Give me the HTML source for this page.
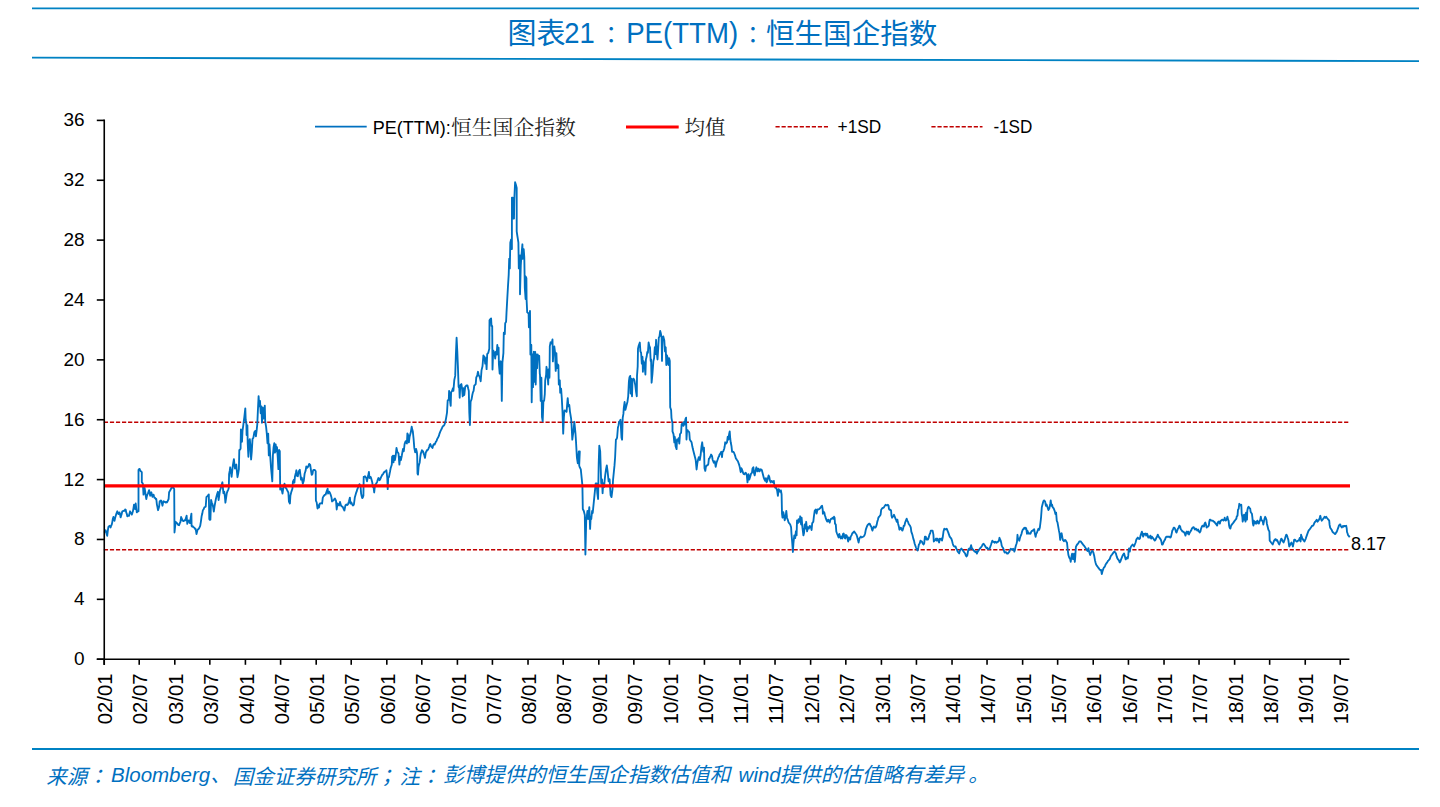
<!DOCTYPE html>
<html><head><meta charset="utf-8">
<style>
html,body{margin:0;padding:0;background:#fff;}
body{width:1440px;height:807px;overflow:hidden;position:relative;}
.src{position:absolute;top:761.5px;font-size:20.5px;line-height:26px;color:#0070C0;white-space:nowrap;font-style:italic;
 font-family:"Liberation Sans","Noto Sans CJK SC",sans-serif;}
.src .c{font-family:"Noto Sans CJK TC",sans-serif;}
svg{position:absolute;left:0;top:0;}
.ax{stroke:#000;stroke-width:1.6;}
.yl{font-family:"Liberation Sans",sans-serif;font-size:19px;text-anchor:end;fill:#000;}
.xl{font-family:"Liberation Sans",sans-serif;font-size:20px;fill:#000;}
.lg{font-family:"Liberation Sans",sans-serif;font-size:19px;fill:#000;}
.lgc{font-family:"Noto Serif CJK SC","Liberation Serif",serif;fill:#222;}
</style></head><body>

<div class="src" style="left:46.3px">来源<span class="c">：</span></div>
<div class="src" style="left:111px">Bloomberg、</div>
<div class="src" style="left:232.75px">国金证券研究所<span class="c">；</span></div>
<div class="src" style="left:399.5px">注<span class="c">：</span></div>
<div class="src" style="left:443.2px">彭博提供的恒生国企指数估值和</div>
<div class="src" style="left:738.6px">wind</div>
<div class="src" style="left:779.7px">提供的估值略有差异</div>
<div class="src" style="left:968.3px">。</div>
<svg width="1440" height="807" viewBox="0 0 1440 807">
<line x1="32" y1="8.4" x2="1419" y2="8.4" stroke="#0082C3" stroke-width="1.8"/>
<line x1="32" y1="57.7" x2="1419" y2="61.1" stroke="#0082C3" stroke-width="1.8"/>
<line x1="32" y1="749" x2="1419" y2="749" stroke="#0082C3" stroke-width="1.8"/>
<!-- title -->
<g fill="#0070C0">
<text x="507.6" y="44.0" font-family="Liberation Sans, Noto Sans CJK SC, sans-serif" font-size="29">图表</text>
<text x="564.3" y="42.5" font-family="Liberation Sans, sans-serif" font-size="29" textLength="30.5" lengthAdjust="spacingAndGlyphs">21</text>
<text x="599.8" y="43.35" font-family="Noto Sans CJK TC, sans-serif" font-size="22.8">：</text>
<text x="626.2" y="42.6" font-family="Liberation Sans, sans-serif" font-size="29.3" textLength="112" lengthAdjust="spacingAndGlyphs">PE(TTM)</text>
<text x="741.4" y="43.35" font-family="Noto Sans CJK TC, sans-serif" font-size="22.8">：</text>
<text x="765.9" y="44.0" font-family="Liberation Sans, Noto Sans CJK SC, sans-serif" font-size="28.6">恒生国企指数</text>
</g>
<!-- legend -->
<line x1="315" y1="126.6" x2="366.7" y2="126.6" stroke="#0070C0" stroke-width="1.6"/>
<text x="372.8" y="133.8" class="lg" textLength="78" lengthAdjust="spacingAndGlyphs">PE(TTM):</text>
<text x="451" y="134.5" class="lgc" font-size="20.8">恒生国企指数</text>
<line x1="626" y1="127" x2="678.7" y2="127" stroke="#FF0000" stroke-width="3.2"/>
<text x="684.5" y="134.5" class="lgc" font-size="20.5">均值</text>
<line x1="775.5" y1="126.7" x2="828" y2="126.7" stroke="#C00000" stroke-width="1.6" stroke-dasharray="4.2 1.85"/>
<text x="837.6" y="133.2" class="lg" textLength="43.7" lengthAdjust="spacingAndGlyphs">+1SD</text>
<line x1="931.4" y1="126.7" x2="982.5" y2="126.7" stroke="#C00000" stroke-width="1.6" stroke-dasharray="4.2 1.85"/>
<text x="993.4" y="133.2" class="lg" textLength="39" lengthAdjust="spacingAndGlyphs">-1SD</text>
<!-- ref lines -->
<line x1="103.85" y1="422.2" x2="1350" y2="422.2" stroke="#C00000" stroke-width="1.6" stroke-dasharray="4.2 1.85"/>
<line x1="103.85" y1="549.7" x2="1350" y2="549.8" stroke="#C00000" stroke-width="1.6" stroke-dasharray="4.2 1.85"/>
<polyline points="104.5,532.5 105.0,531.2 105.6,530.3 106.1,531.7 106.7,534.2 107.2,535.8 107.8,530.9 108.4,526.9 108.9,526.4 109.5,525.8 110.0,526.5 110.6,527.5 111.2,525.5 111.7,524.7 112.3,522.1 112.8,518.9 113.4,516.9 113.9,518.7 114.5,520.8 115.1,518.0 115.6,516.3 116.2,514.2 116.7,512.9 117.3,511.3 117.8,513.1 118.4,514.1 119.0,512.8 119.5,512.4 120.1,514.6 120.6,517.4 121.2,515.5 121.7,513.9 122.3,511.3 122.9,511.2 123.4,510.8 124.0,510.7 124.5,510.9 125.1,509.5 125.7,509.6 126.2,512.3 126.8,513.8 127.3,516.3 127.9,515.7 128.4,515.5 129.0,515.8 129.6,513.3 130.1,511.3 130.7,512.8 131.2,513.1 131.8,514.6 132.3,513.1 132.9,511.3 133.5,508.1 134.0,504.6 134.6,506.7 135.1,509.1 135.7,503.5 136.2,508.0 136.8,512.4 137.4,511.5 137.9,511.1 138.5,511.3 138.5,470.0 139.0,469.1 139.6,468.9 140.1,470.3 140.7,471.2 141.3,471.6 141.8,472.3 141.8,482.3 142.4,482.9 142.9,484.0 143.5,494.6 144.1,491.3 144.6,487.9 145.2,491.7 145.7,495.7 146.3,499.0 146.8,496.6 147.4,494.6 148.0,493.4 148.5,491.8 149.1,490.1 149.6,492.6 150.2,495.7 150.7,494.1 151.3,492.3 151.9,494.6 152.4,496.8 153.0,496.1 153.5,494.6 154.1,496.5 154.6,497.9 155.2,498.0 155.8,499.2 156.3,499.0 156.9,504.6 157.4,506.9 158.0,510.2 158.6,508.4 159.1,506.8 159.7,501.3 160.2,501.4 160.8,500.5 161.3,500.7 161.9,503.2 162.5,505.7 163.0,502.9 163.6,501.3 164.1,501.7 164.7,502.0 165.2,501.9 165.8,502.5 166.4,502.0 166.9,502.4 167.5,501.5 168.0,500.3 168.6,499.0 169.1,492.3 169.7,491.3 170.3,490.1 170.8,489.4 171.4,487.9 171.9,488.0 172.5,487.1 173.0,486.8 173.6,488.1 174.2,489.0 174.5,532.5 175.1,526.6 175.7,521.8 176.4,522.7 177.0,523.1 177.6,523.8 178.1,524.8 178.6,525.1 179.1,525.2 179.8,523.2 180.5,521.8 181.1,517.0 181.8,518.6 182.5,520.4 183.2,521.0 183.9,521.1 184.5,520.2 185.2,520.4 185.9,518.0 186.6,515.7 187.3,523.8 187.9,521.7 188.6,520.4 189.3,521.3 190.0,523.1 190.7,517.8 191.4,513.6 191.6,525.9 192.2,526.6 192.8,526.3 193.4,527.2 193.9,527.3 194.4,527.8 194.9,528.7 195.4,528.6 196.0,530.8 196.5,534.1 197.5,530.0 198.2,529.2 198.9,528.6 199.5,527.3 200.2,525.9 200.9,521.6 201.6,516.3 202.3,513.6 202.9,510.2 203.6,509.3 204.3,507.5 205.0,506.9 205.7,506.8 206.4,497.2 207.0,496.5 207.7,495.9 208.3,495.0 208.8,494.5 209.3,519.1 209.9,519.9 210.4,519.7 211.1,500.0 211.8,502.6 212.5,504.1 213.2,507.4 213.8,511.6 214.5,506.7 215.2,502.7 215.9,499.0 216.6,495.9 217.3,493.5 217.9,491.8 218.6,500.0 219.3,495.2 220.0,490.4 220.7,488.5 221.3,486.3 221.9,484.0 222.4,482.3 223.4,493.2 224.3,491.8 224.9,496.7 225.4,502.7 226.1,497.8 226.8,493.2 227.3,491.6 227.8,490.5 228.3,489.6 228.8,487.7 229.1,474.1 229.7,470.9 230.2,467.3 230.9,472.1 231.6,476.8 232.2,471.2 232.9,465.2 233.9,459.1 234.4,464.1 235.0,468.6 235.7,466.0 236.3,464.5 236.9,471.4 237.5,477.2 238.2,473.5 238.9,469.1 239.3,450.0 240.0,449.7 240.6,448.6 240.9,429.5 241.4,436.0 242.0,441.8 242.5,430.9 243.1,426.7 243.6,422.7 244.3,417.3 245.3,408.4 245.7,420.0 246.4,424.1 246.6,435.0 247.4,425.4 247.7,443.2 248.4,456.8 249.1,441.8 249.8,439.1 250.4,445.9 251.1,459.5 251.8,451.3 252.5,439.1 253.4,437.7 254.3,432.3 255.2,430.9 255.9,436.3 256.6,430.9 257.3,424.1 257.9,410.4 258.6,396.1 259.3,406.4 260.0,400.9 260.7,413.2 261.4,406.4 262.0,422.7 262.7,407.7 263.4,418.6 264.1,410.4 264.8,405.7 265.2,421.4 266.1,426.8 266.8,433.6 267.5,443.2 268.2,433.6 268.8,455.4 269.5,444.5 270.2,455.4 270.9,466.3 271.6,473.7 272.3,481.3 272.9,455.4 273.6,447.2 274.3,443.2 275.0,452.7 275.7,444.5 276.3,451.3 277.0,447.2 277.7,456.8 278.4,469.1 279.1,450.0 279.8,451.3 280.2,489.5 280.5,487.7 281.5,488.7 282.5,493.6 283.5,486.7 284.5,483.7 285.5,487.7 286.2,488.2 286.9,489.7 287.7,491.3 288.4,492.6 288.9,501.5 289.9,503.5 290.4,495.6 291.4,491.6 292.4,488.7 292.9,481.7 293.9,479.7 294.4,482.7 294.9,476.8 295.9,472.8 296.4,470.3 296.9,475.8 297.8,476.3 298.8,471.3 299.8,469.8 300.3,473.8 301.0,479.7 301.8,477.8 302.8,483.7 303.8,480.7 304.6,473.8 305.6,470.8 306.3,466.4 307.3,467.8 308.3,466.4 309.2,463.9 310.2,464.9 311.2,471.8 311.7,474.8 312.5,473.8 313.0,470.8 313.6,469.8 314.2,469.8 314.9,470.1 315.7,471.3 315.9,500.6 316.7,502.5 317.5,508.5 318.2,505.5 319.0,507.5 319.5,504.0 320.0,503.4 320.6,503.5 321.4,503.1 322.1,503.5 322.8,497.6 323.5,496.4 324.1,495.6 324.9,494.6 325.6,494.6 326.6,491.6 327.6,488.7 328.1,493.6 329.1,491.6 329.8,492.5 330.6,494.6 331.5,497.6 332.0,501.5 332.8,500.6 333.5,500.6 334.3,499.1 335.0,498.6 336.0,500.6 336.7,509.5 337.5,503.5 338.2,504.4 339.0,505.5 340.0,502.0 341.0,505.5 342.0,506.5 342.7,506.9 343.4,508.5 344.4,510.5 345.4,505.5 346.4,504.5 347.2,505.0 347.9,504.5 348.9,501.5 349.9,497.6 350.4,503.5 351.4,502.5 352.1,504.2 352.9,505.5 353.9,504.5 354.8,497.6 355.3,495.8 356.0,493.2 356.7,491.4 357.2,489.6 357.8,488.2 358.3,486.9 358.9,485.4 359.5,484.1 360.0,485.1 360.6,486.9 361.1,493.6 361.7,496.3 362.2,498.1 362.8,497.5 363.4,495.8 363.7,476.9 364.4,476.6 365.0,476.3 365.6,477.1 366.2,478.0 367.0,481.3 367.6,478.1 368.2,475.8 368.9,471.9 369.5,478.0 370.1,477.0 370.6,476.9 371.2,478.4 371.7,480.2 372.3,482.5 372.8,486.9 373.4,485.8 374.2,492.5 374.9,485.8 375.5,484.4 376.2,483.6 376.7,482.8 377.3,481.3 377.9,479.3 378.4,478.0 379.0,478.5 379.5,480.2 380.1,479.6 380.7,478.0 381.2,476.9 381.8,475.8 382.3,474.6 382.9,474.3 383.4,473.5 384.0,472.2 384.6,472.1 385.1,471.3 385.8,471.3 386.4,470.2 387.3,478.0 387.7,489.1 388.2,478.0 389.0,476.9 389.6,473.5 390.1,471.2 390.7,468.0 391.2,466.5 391.8,464.6 392.1,456.8 392.9,455.7 393.5,462.4 394.0,455.7 394.9,460.1 395.7,455.7 396.5,447.9 397.4,452.3 397.9,452.6 398.5,453.5 399.4,464.6 400.2,456.8 400.9,460.1 401.8,455.7 402.4,452.2 403.0,449.0 403.8,451.2 404.6,444.0 405.2,442.2 405.7,441.2 406.3,442.6 406.9,443.4 407.4,433.4 408.3,435.6 408.9,442.3 409.6,436.7 410.2,434.5 410.8,432.3 411.7,426.7 412.2,429.3 412.8,431.2 413.6,439.0 414.3,447.9 415.2,452.3 416.1,449.0 416.9,452.3 417.2,455.7 417.5,473.5 418.0,474.6 418.6,466.8 419.1,464.4 419.7,462.4 420.2,457.6 420.8,453.5 421.4,452.2 421.9,450.1 422.5,451.3 423.0,451.2 423.6,453.3 424.1,454.6 425.0,457.9 425.8,452.3 426.4,451.6 426.9,450.1 427.5,450.2 428.0,449.6 428.6,448.4 429.2,446.8 429.7,445.0 430.3,444.0 430.8,445.4 431.4,446.8 432.0,447.2 432.5,447.9 433.1,445.6 433.6,444.5 434.2,444.0 434.7,444.5 435.3,443.1 435.8,441.9 436.3,441.2 436.8,440.3 437.4,438.5 437.9,437.9 438.4,436.8 439.0,435.5 439.5,433.6 440.0,432.3 440.5,431.1 441.1,429.9 441.6,429.0 442.3,427.3 442.9,426.3 443.6,425.8 444.3,425.0 445.3,422.2 446.1,418.1 447.0,412.7 447.7,400.4 448.3,400.2 448.8,399.1 449.1,390.9 449.6,396.7 450.2,401.8 450.7,405.9 451.1,392.2 452.1,390.9 452.9,388.2 453.4,390.9 454.3,380.0 455.2,375.9 455.9,354.1 456.6,337.7 457.3,351.4 457.9,366.3 458.6,386.8 459.3,388.2 459.7,397.7 460.3,385.4 460.8,384.7 461.4,384.1 462.0,388.2 462.7,396.3 463.4,388.2 464.3,395.0 465.2,386.8 465.8,386.3 466.5,385.4 467.5,385.4 468.2,388.5 468.8,390.9 469.3,412.7 469.9,425.0 470.6,401.8 471.6,399.1 472.3,395.0 472.9,392.4 473.6,390.9 474.3,385.4 475.0,384.9 475.7,384.1 476.3,377.2 476.9,376.4 477.4,374.5 478.0,371.8 478.5,374.2 479.1,375.9 479.8,377.2 480.7,381.3 481.5,370.4 482.5,366.3 483.4,355.4 484.0,356.4 484.5,356.8 485.2,363.6 485.9,358.2 486.6,369.1 487.2,354.1 487.8,353.4 488.3,352.7 489.3,348.6 489.5,320.4 490.4,319.1 491.1,318.4 491.5,325.9 492.2,325.9 492.5,369.5 493.2,350.4 493.9,351.8 494.5,353.2 495.2,358.6 495.9,351.8 496.6,354.5 497.3,345.0 497.9,354.5 498.6,347.7 498.9,364.1 499.7,373.6 500.7,361.3 501.4,376.3 501.8,400.9 502.4,362.7 503.4,353.2 503.8,332.7 504.8,334.1 505.2,323.2 506.1,321.8 506.5,312.9 507.2,300.0 507.9,287.8 508.7,274.9 509.2,258.8 509.8,268.4 510.3,242.7 511.1,239.4 511.9,249.1 511.9,197.6 512.7,197.6 513.0,218.5 514.0,218.5 514.3,199.2 515.1,182.2 515.9,184.7 516.7,187.9 516.7,231.4 517.3,235.5 517.8,238.7 518.4,242.7 518.8,268.4 519.4,262.3 520.0,255.5 520.0,294.2 520.8,265.2 521.3,257.2 521.8,251.3 522.4,244.3 522.7,258.8 523.7,249.1 524.3,257.2 524.8,287.8 525.6,299.0 525.6,276.5 526.4,278.1 526.6,300.0 527.2,312.3 527.9,312.8 528.6,313.6 528.9,327.3 529.4,319.0 530.0,310.9 530.4,354.5 531.3,345.0 531.7,402.2 532.4,354.5 533.0,387.2 533.8,351.8 534.3,381.8 535.2,351.8 535.7,384.5 536.4,354.5 537.1,368.2 537.7,354.5 538.6,357.2 539.2,355.9 539.8,373.6 540.0,375.0 540.7,400.9 541.4,377.7 542.0,417.2 542.7,421.3 543.4,400.9 544.1,400.9 544.8,394.1 545.2,380.4 546.1,375.0 546.5,366.8 547.5,375.0 548.2,384.5 548.6,369.5 549.5,377.7 549.8,346.4 550.6,342.3 551.6,343.6 552.5,339.5 552.9,361.4 553.6,349.1 554.3,346.4 555.0,351.8 555.7,370.9 556.4,353.2 557.0,368.2 557.4,364.1 558.4,365.4 558.8,384.5 559.8,380.4 560.2,392.7 561.1,388.6 561.8,398.2 562.5,411.8 563.2,433.6 563.9,417.2 564.5,410.4 565.2,411.0 565.9,410.4 566.6,411.8 567.1,405.2 567.7,398.2 568.4,406.3 569.3,405.0 570.0,411.8 570.5,414.8 571.1,418.6 571.6,425.4 572.3,439.7 572.9,435.2 573.5,431.7 574.3,421.8 574.9,427.3 575.5,433.7 575.9,439.7 576.9,457.5 577.8,463.4 578.8,451.5 579.8,451.5 579.2,465.4 579.8,467.4 580.8,469.4 581.8,479.3 582.4,485.3 582.8,509.0 583.8,511.0 584.8,515.0 585.4,554.6 586.2,520.9 586.8,516.5 587.4,511.0 588.2,519.0 588.7,513.4 589.3,507.1 590.1,528.9 590.7,517.0 591.3,519.0 592.1,511.0 592.7,513.0 593.7,503.1 594.7,493.2 595.7,483.3 596.7,483.3 597.3,493.2 598.1,499.1 598.7,463.4 599.3,445.6 600.2,451.5 601.2,483.3 602.0,479.3 602.6,493.2 603.2,483.3 604.0,487.2 604.6,480.9 605.2,475.3 606.0,469.4 606.8,465.4 607.6,471.4 608.6,481.3 609.6,479.3 610.6,495.2 611.5,497.1 612.5,489.2 613.1,479.3 613.5,475.3 614.5,465.4 615.1,457.5 615.9,439.7 616.5,439.1 617.1,437.7 617.9,427.8 618.5,425.4 619.1,421.8 619.8,421.0 620.5,419.8 621.5,437.7 622.1,439.7 622.7,417.8 623.4,413.9 623.8,407.9 624.6,402.0 625.4,409.9 626.4,405.9 627.4,402.0 628.2,396.3 628.9,381.3 629.5,377.2 630.2,375.9 630.6,393.6 631.2,378.6 632.0,396.3 632.5,380.0 633.4,378.6 634.3,380.0 635.3,385.4 636.1,392.2 636.8,396.3 637.0,375.9 637.7,366.3 638.0,348.6 638.5,346.4 639.1,344.5 639.8,342.5 640.4,351.4 641.1,352.7 641.8,363.6 642.5,356.8 642.9,371.8 643.4,360.9 644.3,363.6 644.8,367.7 645.4,374.5 645.9,359.5 646.6,356.8 647.3,352.0 647.9,352.7 648.6,342.5 649.3,345.9 650.0,347.3 650.7,360.9 651.1,359.5 651.6,382.7 652.4,374.5 653.4,360.9 654.1,358.2 654.8,347.3 655.4,354.1 656.1,339.8 656.8,352.7 657.5,359.5 658.2,348.6 658.8,337.7 659.5,336.4 660.2,330.9 660.9,333.6 661.6,337.7 662.0,360.9 662.5,337.7 663.3,336.4 664.3,340.4 665.0,351.4 665.7,347.3 666.3,365.0 667.0,355.4 667.7,358.2 668.4,365.0 669.1,358.2 669.8,360.9 670.2,407.2 671.1,410.0 671.5,418.1 672.5,423.6 672.5,431.4 673.5,434.1 674.3,442.3 674.8,436.8 675.6,446.3 676.6,449.1 677.0,439.5 677.9,440.9 678.6,438.2 679.3,443.6 680.0,434.1 680.5,433.5 681.1,432.7 681.6,424.5 682.4,423.2 683.4,425.9 684.1,421.8 684.8,424.5 685.4,419.1 686.1,417.7 686.5,439.5 687.1,430.0 687.6,430.2 688.2,431.4 688.7,431.4 689.3,432.7 689.8,439.5 690.6,440.9 691.6,442.3 692.3,446.3 692.9,449.1 693.6,451.8 694.3,454.5 695.0,457.2 695.7,460.0 696.6,469.5 697.4,462.7 698.0,460.0 698.8,457.2 699.8,460.0 700.7,454.5 701.5,446.3 702.2,442.3 702.9,449.1 703.4,451.8 704.0,447.7 704.5,468.2 705.3,470.9 705.9,466.8 706.6,465.4 707.5,465.4 708.3,464.1 708.9,458.6 709.4,458.5 710.0,457.2 710.5,456.1 711.1,454.5 712.0,455.9 712.7,460.0 713.3,461.4 713.8,462.7 714.8,461.3 715.7,466.8 716.5,462.7 717.5,460.0 718.4,457.2 719.0,456.4 719.5,454.5 720.1,453.8 720.6,453.2 721.2,451.8 722.0,457.2 722.5,451.8 723.1,451.6 723.6,450.4 724.2,448.8 724.7,446.3 725.2,442.3 726.1,443.6 727.0,442.3 727.7,436.8 728.5,439.5 729.1,434.1 729.7,431.4 730.2,438.2 730.7,442.3 731.5,446.3 732.1,451.8 732.6,451.5 733.2,451.8 733.7,452.2 734.2,453.2 735.2,455.9 735.9,458.6 736.4,459.0 737.0,460.0 737.9,461.3 738.9,464.1 739.7,466.8 740.7,472.2 741.3,468.2 741.9,469.2 742.4,470.9 743.4,473.6 743.9,474.1 744.5,474.3 744.8,473.4 745.7,472.7 746.3,473.8 746.8,475.4 747.5,482.3 748.5,474.1 749.3,479.5 750.2,476.8 750.9,474.1 751.4,473.3 752.0,472.7 752.5,468.6 753.4,467.3 753.9,472.7 754.7,475.4 755.7,470.0 756.4,467.3 756.9,468.9 757.4,471.4 758.4,468.6 759.4,471.4 759.9,470.8 760.4,469.3 761.1,469.5 761.8,470.0 762.5,472.7 763.2,475.4 763.9,478.2 764.5,479.5 765.2,480.9 765.9,478.2 766.6,482.3 767.3,480.9 767.9,478.2 768.6,475.4 769.3,476.8 770.0,480.9 770.7,482.3 771.6,480.9 772.2,481.5 772.7,482.3 773.3,481.7 773.8,480.9 774.3,485.0 775.2,487.7 776.1,487.7 777.1,490.4 777.9,495.9 778.6,489.1 779.5,490.4 780.2,491.8 780.9,490.4 781.6,494.5 782.0,513.6 782.5,517.7 783.3,512.2 783.9,515.0 784.7,520.4 785.7,516.3 786.3,510.9 787.0,517.7 788.0,520.4 788.5,522.3 789.1,523.1 789.6,523.7 790.2,524.5 791.1,527.2 791.5,534.1 792.1,540.9 792.9,552.0 793.4,543.6 794.3,535.4 795.2,538.1 795.9,531.3 796.6,535.4 797.0,520.4 797.9,523.1 798.6,519.1 799.2,520.9 799.7,521.8 800.2,516.3 801.1,524.5 801.6,517.7 802.4,527.2 803.4,535.4 804.1,532.7 804.7,524.5 805.4,528.6 806.2,521.8 807.1,531.3 807.9,527.2 808.8,528.6 809.8,525.9 810.3,526.6 810.9,527.2 811.6,530.0 812.2,523.1 812.8,522.5 813.3,521.8 813.9,516.3 814.7,510.9 815.7,509.5 816.6,513.6 817.4,509.5 818.4,509.5 818.9,509.2 819.5,508.7 820.5,507.8 821.4,506.3 822.1,505.8 822.7,509.7 822.9,513.7 823.7,511.7 824.4,512.7 824.9,515.7 825.4,516.7 825.9,518.7 826.7,520.6 827.4,521.6 828.1,519.7 828.9,520.6 829.7,522.6 830.4,519.7 831.1,518.7 831.9,518.7 832.6,517.7 833.3,518.7 834.0,516.7 834.6,517.7 835.0,523.6 835.8,524.6 836.3,531.5 837.0,533.5 837.8,535.5 838.6,537.5 839.3,534.0 840.0,536.5 840.8,538.5 841.6,536.5 842.3,538.5 843.0,534.0 843.7,533.5 844.5,537.5 845.2,538.5 845.9,535.0 846.7,535.5 847.5,538.5 848.2,541.5 848.7,537.5 849.5,539.5 850.2,539.5 850.7,536.5 851.5,535.5 852.2,533.5 853.2,532.5 854.2,531.5 854.9,532.5 855.6,533.5 856.4,534.5 857.1,536.5 857.6,538.5 858.1,540.5 858.6,542.5 859.4,538.5 860.1,537.5 860.8,536.5 861.6,537.5 862.6,537.0 863.6,536.5 864.4,535.5 865.1,533.5 865.8,529.6 866.5,527.6 867.3,525.6 868.0,524.6 869.0,523.6 869.7,523.6 870.5,525.6 871.3,526.6 872.0,529.6 872.5,530.6 873.3,527.6 874.0,526.6 874.5,527.6 875.3,527.6 876.0,526.6 876.7,524.6 877.3,521.6 877.9,519.7 878.4,517.7 879.2,516.7 879.9,515.7 880.6,514.7 881.2,509.7 881.9,508.7 882.6,507.8 883.4,507.8 884.2,506.8 884.9,505.8 885.6,504.8 886.4,505.3 887.2,505.3 887.9,504.8 888.6,505.8 888.9,508.7 889.5,509.7 890.3,509.7 891.1,510.7 891.5,515.7 892.1,517.7 892.8,516.7 893.5,515.7 894.0,514.8 894.8,516.8 895.5,518.7 896.1,519.7 896.7,521.7 897.4,519.7 898.1,523.7 898.9,526.7 899.4,529.7 900.1,528.7 900.9,527.7 901.7,529.7 902.4,530.6 903.1,528.7 903.7,525.7 904.4,525.7 905.1,522.7 905.9,520.7 906.7,518.7 907.3,520.7 908.0,521.7 908.6,523.7 909.3,524.7 910.0,525.7 910.8,527.7 911.3,531.6 912.0,533.6 912.6,535.6 913.3,538.6 914.0,540.6 914.6,543.5 915.3,545.5 916.0,547.5 916.8,549.5 917.6,550.5 918.3,547.5 918.9,544.5 919.7,543.5 920.5,540.6 921.2,541.5 921.9,541.5 922.7,543.5 923.5,544.5 924.2,543.5 924.9,536.6 925.7,536.6 926.5,539.6 927.2,538.6 927.9,539.6 928.7,537.6 929.5,534.6 930.1,533.6 930.8,530.6 931.6,530.6 932.6,530.6 933.4,534.6 933.8,541.5 934.6,540.6 935.4,539.6 936.1,538.6 936.8,540.6 937.6,538.6 938.4,540.6 939.1,542.5 939.8,538.6 940.6,539.6 941.4,538.6 942.0,540.6 942.7,537.6 943.5,531.6 944.3,528.7 945.0,529.2 946.0,529.2 946.7,528.7 947.5,530.6 948.3,532.6 949.0,534.6 949.7,536.6 950.5,537.6 951.3,538.6 952.0,540.6 952.7,543.5 953.4,545.5 954.2,546.5 954.9,546.5 955.6,546.5 956.2,548.5 956.9,549.5 957.6,551.5 958.4,552.5 959.2,553.4 959.9,550.5 960.6,549.5 961.4,548.5 962.2,549.5 962.9,550.5 963.6,551.5 964.3,552.5 965.1,553.4 965.8,555.4 966.5,556.4 967.3,555.4 967.8,552.5 968.3,549.5 969.1,548.5 969.5,549.7 970.2,548.7 970.7,546.7 971.1,545.2 971.7,547.7 972.4,548.7 973.1,549.7 973.9,550.6 974.7,551.6 975.4,552.1 976.1,551.6 976.9,553.6 977.7,551.6 978.4,550.6 979.1,549.7 979.9,548.7 980.7,547.7 981.4,546.7 982.1,545.7 982.8,544.2 983.6,543.7 984.3,544.7 985.0,545.7 985.8,547.2 986.6,548.2 987.3,547.7 988.0,548.7 988.8,549.2 989.6,548.7 990.3,546.7 991.0,544.7 991.6,542.7 992.3,540.7 993.0,541.7 993.7,541.7 994.5,542.7 995.2,541.7 995.9,542.2 996.7,542.7 997.5,541.7 998.2,541.7 998.9,540.7 999.5,537.8 1000.2,539.7 1000.7,540.7 1001.2,542.7 1001.7,545.7 1002.2,546.7 1002.9,547.7 1003.7,549.7 1004.2,551.6 1004.9,552.6 1005.6,552.1 1006.4,552.6 1007.1,553.6 1007.8,553.6 1008.6,552.6 1009.4,551.6 1010.1,549.7 1010.8,548.7 1011.6,549.2 1012.4,549.7 1013.1,548.7 1013.8,549.7 1014.4,551.6 1015.1,548.7 1015.8,545.7 1016.5,543.7 1017.0,541.7 1017.5,534.8 1018.0,539.7 1018.5,538.7 1019.3,540.7 1020.0,537.8 1020.7,535.8 1021.5,533.8 1022.0,531.8 1022.7,529.8 1023.5,528.8 1024.3,527.8 1025.0,528.8 1025.7,527.8 1026.3,528.8 1027.0,533.8 1027.5,530.8 1028.2,532.8 1028.9,533.8 1029.6,533.3 1030.4,533.8 1031.2,531.8 1031.9,530.8 1032.6,530.8 1033.4,529.8 1034.2,529.3 1034.9,533.8 1035.6,536.8 1036.2,533.8 1036.9,532.8 1037.6,530.8 1038.4,528.8 1039.2,529.8 1039.8,527.8 1040.3,523.9 1040.8,519.9 1041.1,516.8 1041.8,507.3 1042.5,504.5 1043.2,501.8 1043.7,500.6 1044.3,500.4 1045.2,501.8 1045.9,505.9 1046.6,504.5 1047.5,507.3 1048.4,510.0 1049.3,508.6 1050.3,503.2 1050.7,500.4 1051.4,505.9 1052.0,504.5 1052.7,507.3 1053.3,507.9 1053.8,508.6 1054.8,511.4 1055.4,514.1 1056.1,512.7 1056.8,520.9 1057.5,522.3 1058.2,526.3 1058.9,530.4 1059.5,533.2 1060.2,540.0 1060.9,534.5 1061.6,533.2 1062.3,537.2 1062.9,540.0 1063.9,541.3 1064.4,540.3 1065.0,540.0 1065.5,540.1 1066.1,541.3 1067.0,542.7 1067.7,549.5 1068.4,555.0 1069.3,557.7 1070.2,559.1 1070.7,561.8 1071.5,556.3 1072.1,553.6 1072.9,559.1 1073.4,557.7 1074.0,553.6 1074.8,561.8 1075.3,556.3 1075.9,546.8 1076.6,545.4 1077.5,544.1 1078.1,543.7 1078.6,542.7 1079.2,541.6 1079.7,541.3 1080.7,541.3 1081.6,542.7 1082.2,543.4 1082.7,544.1 1083.3,545.0 1083.8,545.4 1084.8,546.8 1085.7,548.2 1086.5,549.5 1087.5,550.9 1088.4,548.2 1089.3,552.2 1090.2,555.0 1091.2,552.2 1091.7,551.6 1092.2,550.9 1092.8,551.4 1093.3,552.2 1094.3,556.3 1095.0,560.4 1095.5,562.5 1096.1,564.5 1097.0,565.9 1098.0,567.2 1098.5,568.0 1099.1,568.6 1099.6,569.6 1100.2,570.0 1101.1,570.0 1101.8,574.1 1102.5,571.3 1103.4,568.6 1104.0,567.4 1104.5,567.2 1105.1,565.9 1105.6,564.5 1106.6,563.1 1107.5,561.8 1108.1,560.8 1108.6,560.4 1109.2,559.5 1109.7,559.1 1110.7,556.3 1111.6,555.0 1112.1,554.6 1112.7,553.6 1113.2,552.9 1113.8,552.2 1114.5,551.5 1115.2,552.5 1115.9,553.4 1116.7,556.4 1117.4,558.4 1118.1,559.4 1118.9,560.4 1119.7,562.4 1120.4,561.4 1121.1,559.4 1121.9,557.4 1122.7,555.4 1123.4,554.4 1124.1,553.4 1124.9,556.4 1125.7,559.4 1126.4,558.4 1127.1,557.4 1127.8,558.4 1128.3,555.4 1128.6,550.5 1129.0,548.5 1129.8,551.5 1130.3,548.5 1131.0,546.5 1131.8,545.5 1132.6,544.5 1133.3,545.5 1134.0,546.5 1134.8,544.5 1135.6,542.5 1136.3,539.6 1137.0,538.6 1137.8,537.6 1138.6,538.6 1139.2,539.1 1139.9,538.6 1140.5,535.6 1141.2,533.6 1141.9,531.6 1142.5,534.6 1143.2,536.6 1143.9,533.6 1144.7,534.6 1145.5,533.6 1146.2,535.6 1146.9,533.6 1147.5,534.6 1148.2,537.6 1148.9,536.6 1149.7,537.6 1150.4,535.6 1151.1,538.6 1151.8,536.6 1152.6,537.6 1153.4,538.6 1154.1,539.6 1154.8,540.6 1155.6,539.6 1156.4,537.6 1157.1,536.6 1157.8,534.6 1158.6,536.6 1159.4,537.6 1160.1,538.6 1160.8,539.6 1161.4,541.5 1162.0,544.5 1162.7,544.5 1163.5,542.5 1164.3,540.6 1165.0,539.6 1165.7,537.6 1166.5,536.6 1167.3,536.6 1168.0,537.1 1168.7,536.6 1169.5,536.6 1170.3,537.6 1171.0,536.6 1171.7,533.6 1172.3,530.6 1172.9,529.7 1173.6,527.7 1174.4,527.7 1174.9,528.7 1175.4,529.7 1175.9,531.6 1176.6,532.6 1177.2,530.6 1177.9,528.7 1178.6,527.7 1179.4,525.7 1180.2,526.7 1180.6,528.7 1181.2,529.7 1181.9,530.6 1182.6,531.6 1183.4,531.6 1184.2,532.6 1184.8,533.6 1185.5,535.6 1186.1,532.6 1186.8,531.6 1187.5,533.6 1188.3,531.6 1189.0,534.5 1189.8,532.5 1190.5,531.5 1191.1,530.6 1191.9,528.6 1192.7,527.6 1193.7,527.1 1194.4,528.6 1195.1,529.6 1195.9,528.6 1196.7,529.6 1197.4,530.6 1198.1,529.6 1198.9,531.5 1199.7,532.5 1200.4,531.5 1201.1,528.6 1201.9,526.6 1202.6,525.6 1203.3,525.6 1204.0,526.6 1204.6,523.6 1205.3,522.6 1206.0,524.6 1206.6,527.6 1207.3,526.6 1208.0,526.6 1208.8,525.6 1209.3,521.6 1209.8,519.7 1210.6,519.7 1211.3,520.6 1212.0,520.6 1212.8,520.6 1213.6,521.6 1214.2,521.6 1214.9,522.6 1215.7,523.6 1216.5,524.6 1217.2,525.6 1217.7,522.6 1218.5,521.6 1219.2,522.6 1219.9,523.6 1220.5,520.6 1221.2,520.6 1221.9,519.7 1222.7,519.7 1223.5,520.6 1224.2,519.7 1224.7,517.7 1225.1,519.7 1225.8,520.6 1226.6,519.7 1227.4,516.7 1228.1,519.7 1228.6,520.6 1229.1,525.6 1229.6,527.6 1230.4,528.6 1231.1,525.6 1231.8,524.6 1232.6,523.6 1233.4,522.6 1234.1,521.6 1234.8,520.6 1235.6,519.7 1236.4,518.7 1236.7,516.7 1237.5,515.7 1238.0,509.7 1238.7,508.7 1239.3,503.8 1240.0,504.8 1240.7,505.8 1241.3,504.8 1241.7,513.7 1242.3,516.7 1242.7,521.6 1243.3,516.7 1244.0,514.7 1244.5,519.7 1245.0,514.7 1245.5,521.6 1246.0,512.7 1246.5,516.7 1247.0,519.7 1247.3,510.7 1247.9,507.8 1248.6,506.8 1249.4,507.8 1250.2,508.7 1250.6,511.7 1251.2,512.7 1251.9,513.7 1252.4,517.7 1252.9,523.6 1253.4,525.6 1253.9,520.6 1254.4,522.6 1255.2,523.6 1255.9,521.6 1256.6,523.6 1257.4,520.6 1258.2,522.6 1258.9,523.6 1259.5,521.6 1260.3,519.7 1260.8,516.7 1261.3,519.7 1262.1,520.6 1262.8,521.6 1263.3,524.6 1264.1,520.6 1264.5,518.7 1265.2,516.8 1265.7,517.8 1266.4,519.7 1266.9,523.7 1267.4,525.7 1267.9,527.7 1268.4,529.7 1268.9,530.6 1269.4,531.6 1269.7,540.6 1270.4,541.5 1271.1,542.5 1271.9,543.5 1272.7,544.5 1273.4,542.5 1274.1,540.6 1274.9,539.6 1275.7,539.1 1276.4,540.6 1277.1,540.1 1277.8,541.5 1278.6,543.5 1279.3,544.5 1280.0,542.5 1280.6,540.6 1281.3,538.6 1282.0,539.6 1282.8,541.5 1283.6,542.5 1284.3,540.6 1285.0,538.6 1285.6,536.6 1286.3,534.6 1287.0,535.6 1287.6,537.6 1288.3,539.6 1288.7,542.5 1289.2,546.5 1289.9,545.5 1290.7,543.5 1291.5,542.5 1292.2,544.5 1292.9,546.5 1293.7,542.5 1294.2,539.6 1294.9,539.6 1295.7,540.6 1296.5,541.5 1297.2,541.5 1297.9,540.6 1298.7,540.6 1299.5,538.6 1300.1,537.6 1300.6,541.5 1301.1,534.6 1301.6,536.6 1302.4,538.6 1303.1,539.6 1303.8,540.6 1304.4,541.5 1305.1,540.1 1305.8,538.6 1306.4,536.6 1307.1,534.6 1307.8,532.6 1308.6,530.6 1309.4,529.7 1310.1,528.7 1310.8,527.7 1311.5,526.7 1312.3,525.7 1313.0,525.7 1313.7,524.7 1314.5,522.7 1315.3,521.7 1316.0,520.7 1316.7,519.7 1317.5,521.7 1318.3,520.7 1319.0,519.7 1319.7,517.8 1320.3,515.8 1321.0,518.7 1321.7,520.7 1322.5,519.7 1323.2,518.7 1323.9,517.8 1324.6,516.8 1325.4,517.8 1326.2,516.8 1326.9,517.8 1327.6,518.7 1328.4,519.7 1329.2,520.7 1329.6,524.7 1330.2,527.7 1330.9,528.7 1331.6,529.7 1332.4,531.6 1333.2,532.6 1333.9,533.1 1334.5,533.6 1335.3,534.1 1336.1,532.6 1336.8,531.6 1337.5,529.7 1338.3,527.7 1338.8,525.7 1339.5,524.7 1339.8,524.5 1340.3,524.5 1340.7,526.0 1341.3,526.8 1341.8,527.5 1342.4,526.4 1343.0,526.0 1343.5,526.8 1344.0,526.0 1344.6,526.0 1345.2,526.0 1345.7,526.4 1346.2,525.7 1346.7,528.3 1347.0,532.0 1347.6,533.5 1348.0,534.9 1348.5,535.7 1349.1,536.4 1349.7,537.2" fill="none" stroke="#0070C0" stroke-width="1.85" stroke-linejoin="round"/>
<line x1="104.25" y1="485.9" x2="1350" y2="485.9" stroke="#FF0000" stroke-width="3.2"/>
<!-- axes -->
<line x1="104.25" y1="119.5" x2="104.25" y2="665" class="ax"/>
<line x1="96.8" y1="659.2" x2="1349.4" y2="659.2" class="ax"/>
<line x1="96.8" y1="659.20" x2="104.25" y2="659.20" class="ax"/>
<text x="84.6" y="665.20" class="yl">0</text>
<line x1="96.8" y1="599.33" x2="104.25" y2="599.33" class="ax"/>
<text x="84.6" y="605.33" class="yl">4</text>
<line x1="96.8" y1="539.46" x2="104.25" y2="539.46" class="ax"/>
<text x="84.6" y="545.46" class="yl">8</text>
<line x1="96.8" y1="479.60" x2="104.25" y2="479.60" class="ax"/>
<text x="84.6" y="485.60" class="yl">12</text>
<line x1="96.8" y1="419.73" x2="104.25" y2="419.73" class="ax"/>
<text x="84.6" y="425.73" class="yl">16</text>
<line x1="96.8" y1="359.86" x2="104.25" y2="359.86" class="ax"/>
<text x="84.6" y="365.86" class="yl">20</text>
<line x1="96.8" y1="299.99" x2="104.25" y2="299.99" class="ax"/>
<text x="84.6" y="305.99" class="yl">24</text>
<line x1="96.8" y1="240.12" x2="104.25" y2="240.12" class="ax"/>
<text x="84.6" y="246.12" class="yl">28</text>
<line x1="96.8" y1="180.26" x2="104.25" y2="180.26" class="ax"/>
<text x="84.6" y="186.26" class="yl">32</text>
<line x1="96.8" y1="120.39" x2="104.25" y2="120.39" class="ax"/>
<text x="84.6" y="126.39" class="yl">36</text>
<line x1="104.20" y1="659.2" x2="104.20" y2="664.8" class="ax"/>
<text transform="translate(112.30,724.3) rotate(-90)" class="xl" textLength="51" lengthAdjust="spacingAndGlyphs">02/01</text>
<line x1="139.21" y1="659.2" x2="139.21" y2="664.8" class="ax"/>
<text transform="translate(147.31,724.3) rotate(-90)" class="xl" textLength="51" lengthAdjust="spacingAndGlyphs">02/07</text>
<line x1="174.80" y1="659.2" x2="174.80" y2="664.8" class="ax"/>
<text transform="translate(182.90,724.3) rotate(-90)" class="xl" textLength="51" lengthAdjust="spacingAndGlyphs">03/01</text>
<line x1="209.82" y1="659.2" x2="209.82" y2="664.8" class="ax"/>
<text transform="translate(217.92,724.3) rotate(-90)" class="xl" textLength="51" lengthAdjust="spacingAndGlyphs">03/07</text>
<line x1="245.41" y1="659.2" x2="245.41" y2="664.8" class="ax"/>
<text transform="translate(253.51,724.3) rotate(-90)" class="xl" textLength="51" lengthAdjust="spacingAndGlyphs">04/01</text>
<line x1="280.61" y1="659.2" x2="280.61" y2="664.8" class="ax"/>
<text transform="translate(288.71,724.3) rotate(-90)" class="xl" textLength="51" lengthAdjust="spacingAndGlyphs">04/07</text>
<line x1="316.20" y1="659.2" x2="316.20" y2="664.8" class="ax"/>
<text transform="translate(324.30,724.3) rotate(-90)" class="xl" textLength="51" lengthAdjust="spacingAndGlyphs">05/01</text>
<line x1="351.22" y1="659.2" x2="351.22" y2="664.8" class="ax"/>
<text transform="translate(359.32,724.3) rotate(-90)" class="xl" textLength="51" lengthAdjust="spacingAndGlyphs">05/07</text>
<line x1="386.81" y1="659.2" x2="386.81" y2="664.8" class="ax"/>
<text transform="translate(394.91,724.3) rotate(-90)" class="xl" textLength="51" lengthAdjust="spacingAndGlyphs">06/01</text>
<line x1="421.82" y1="659.2" x2="421.82" y2="664.8" class="ax"/>
<text transform="translate(429.92,724.3) rotate(-90)" class="xl" textLength="51" lengthAdjust="spacingAndGlyphs">06/07</text>
<line x1="457.41" y1="659.2" x2="457.41" y2="664.8" class="ax"/>
<text transform="translate(465.51,724.3) rotate(-90)" class="xl" textLength="51" lengthAdjust="spacingAndGlyphs">07/01</text>
<line x1="492.42" y1="659.2" x2="492.42" y2="664.8" class="ax"/>
<text transform="translate(500.52,724.3) rotate(-90)" class="xl" textLength="51" lengthAdjust="spacingAndGlyphs">07/07</text>
<line x1="528.02" y1="659.2" x2="528.02" y2="664.8" class="ax"/>
<text transform="translate(536.12,724.3) rotate(-90)" class="xl" textLength="51" lengthAdjust="spacingAndGlyphs">08/01</text>
<line x1="563.22" y1="659.2" x2="563.22" y2="664.8" class="ax"/>
<text transform="translate(571.32,724.3) rotate(-90)" class="xl" textLength="51" lengthAdjust="spacingAndGlyphs">08/07</text>
<line x1="598.81" y1="659.2" x2="598.81" y2="664.8" class="ax"/>
<text transform="translate(606.91,724.3) rotate(-90)" class="xl" textLength="51" lengthAdjust="spacingAndGlyphs">09/01</text>
<line x1="633.83" y1="659.2" x2="633.83" y2="664.8" class="ax"/>
<text transform="translate(641.93,724.3) rotate(-90)" class="xl" textLength="51" lengthAdjust="spacingAndGlyphs">09/07</text>
<line x1="669.42" y1="659.2" x2="669.42" y2="664.8" class="ax"/>
<text transform="translate(677.52,724.3) rotate(-90)" class="xl" textLength="51" lengthAdjust="spacingAndGlyphs">10/01</text>
<line x1="704.43" y1="659.2" x2="704.43" y2="664.8" class="ax"/>
<text transform="translate(712.53,724.3) rotate(-90)" class="xl" textLength="51" lengthAdjust="spacingAndGlyphs">10/07</text>
<line x1="740.02" y1="659.2" x2="740.02" y2="664.8" class="ax"/>
<text transform="translate(748.12,724.3) rotate(-90)" class="xl" textLength="51" lengthAdjust="spacingAndGlyphs">11/01</text>
<line x1="775.03" y1="659.2" x2="775.03" y2="664.8" class="ax"/>
<text transform="translate(783.13,724.3) rotate(-90)" class="xl" textLength="51" lengthAdjust="spacingAndGlyphs">11/07</text>
<line x1="810.62" y1="659.2" x2="810.62" y2="664.8" class="ax"/>
<text transform="translate(818.72,724.3) rotate(-90)" class="xl" textLength="51" lengthAdjust="spacingAndGlyphs">12/01</text>
<line x1="845.83" y1="659.2" x2="845.83" y2="664.8" class="ax"/>
<text transform="translate(853.93,724.3) rotate(-90)" class="xl" textLength="51" lengthAdjust="spacingAndGlyphs">12/07</text>
<line x1="881.42" y1="659.2" x2="881.42" y2="664.8" class="ax"/>
<text transform="translate(889.52,724.3) rotate(-90)" class="xl" textLength="51" lengthAdjust="spacingAndGlyphs">13/01</text>
<line x1="916.43" y1="659.2" x2="916.43" y2="664.8" class="ax"/>
<text transform="translate(924.53,724.3) rotate(-90)" class="xl" textLength="51" lengthAdjust="spacingAndGlyphs">13/07</text>
<line x1="952.03" y1="659.2" x2="952.03" y2="664.8" class="ax"/>
<text transform="translate(960.13,724.3) rotate(-90)" class="xl" textLength="51" lengthAdjust="spacingAndGlyphs">14/01</text>
<line x1="987.04" y1="659.2" x2="987.04" y2="664.8" class="ax"/>
<text transform="translate(995.14,724.3) rotate(-90)" class="xl" textLength="51" lengthAdjust="spacingAndGlyphs">14/07</text>
<line x1="1022.63" y1="659.2" x2="1022.63" y2="664.8" class="ax"/>
<text transform="translate(1030.73,724.3) rotate(-90)" class="xl" textLength="51" lengthAdjust="spacingAndGlyphs">15/01</text>
<line x1="1057.64" y1="659.2" x2="1057.64" y2="664.8" class="ax"/>
<text transform="translate(1065.74,724.3) rotate(-90)" class="xl" textLength="51" lengthAdjust="spacingAndGlyphs">15/07</text>
<line x1="1093.23" y1="659.2" x2="1093.23" y2="664.8" class="ax"/>
<text transform="translate(1101.33,724.3) rotate(-90)" class="xl" textLength="51" lengthAdjust="spacingAndGlyphs">16/01</text>
<line x1="1128.44" y1="659.2" x2="1128.44" y2="664.8" class="ax"/>
<text transform="translate(1136.54,724.3) rotate(-90)" class="xl" textLength="51" lengthAdjust="spacingAndGlyphs">16/07</text>
<line x1="1164.03" y1="659.2" x2="1164.03" y2="664.8" class="ax"/>
<text transform="translate(1172.13,724.3) rotate(-90)" class="xl" textLength="51" lengthAdjust="spacingAndGlyphs">17/01</text>
<line x1="1199.04" y1="659.2" x2="1199.04" y2="664.8" class="ax"/>
<text transform="translate(1207.14,724.3) rotate(-90)" class="xl" textLength="51" lengthAdjust="spacingAndGlyphs">17/07</text>
<line x1="1234.63" y1="659.2" x2="1234.63" y2="664.8" class="ax"/>
<text transform="translate(1242.73,724.3) rotate(-90)" class="xl" textLength="51" lengthAdjust="spacingAndGlyphs">18/01</text>
<line x1="1269.65" y1="659.2" x2="1269.65" y2="664.8" class="ax"/>
<text transform="translate(1277.75,724.3) rotate(-90)" class="xl" textLength="51" lengthAdjust="spacingAndGlyphs">18/07</text>
<line x1="1305.24" y1="659.2" x2="1305.24" y2="664.8" class="ax"/>
<text transform="translate(1313.34,724.3) rotate(-90)" class="xl" textLength="51" lengthAdjust="spacingAndGlyphs">19/01</text>
<line x1="1340.25" y1="659.2" x2="1340.25" y2="664.8" class="ax"/>
<text transform="translate(1348.35,724.3) rotate(-90)" class="xl" textLength="51" lengthAdjust="spacingAndGlyphs">19/07</text>
<text x="1351" y="549.5" font-family="Liberation Sans, sans-serif" font-size="18" fill="#000">8.17</text>
</svg>
</body></html>
